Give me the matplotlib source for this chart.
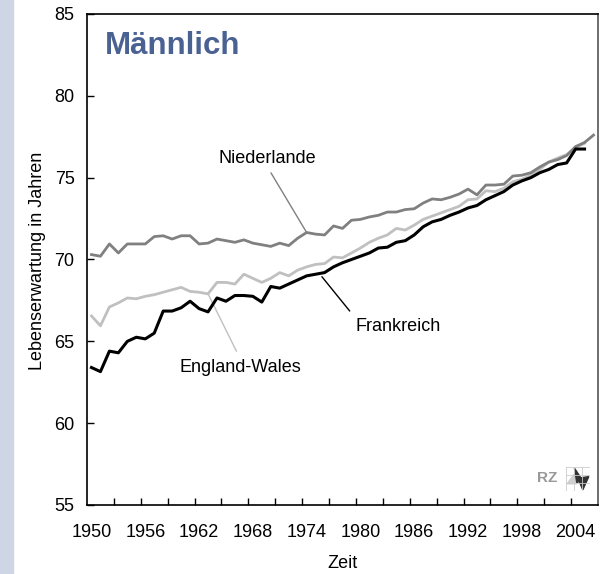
import numpy as np
import matplotlib
matplotlib.use("Agg")
import matplotlib.pyplot as plt
from matplotlib.patches import Rectangle, Polygon

plt.rcParams['font.family'] = ['Liberation Sans', 'DejaVu Sans']

# Lebenserwartung Männer (Jahre)
years_nl = np.arange(1950, 2007)
niederlande = [70.3, 70.2, 70.95, 70.4, 70.95, 70.95, 70.95, 71.4, 71.45, 71.25,
               71.45, 71.45, 70.95, 71.0, 71.25, 71.15, 71.05, 71.2, 71.0, 70.9,
               70.8, 71.0, 70.85, 71.3, 71.65, 71.55, 71.5, 72.05, 71.9, 72.4,
               72.45, 72.6, 72.7, 72.9, 72.9, 73.05, 73.1, 73.45, 73.7, 73.65,
               73.8, 74.0, 74.3, 73.95, 74.55, 74.55, 74.6, 75.1, 75.15, 75.3,
               75.65, 75.95, 76.1, 76.35, 76.9, 77.15, 77.6]

years_ew = np.arange(1950, 2006)
england_wales = [66.55, 65.95, 67.1, 67.35, 67.65, 67.6, 67.75, 67.85, 68.0, 68.15,
                 68.3, 68.05, 68.0, 67.9, 68.6, 68.6, 68.5, 69.1, 68.85, 68.6,
                 68.85, 69.2, 69.0, 69.35, 69.55, 69.7, 69.75, 70.15, 70.1, 70.4,
                 70.7, 71.05, 71.3, 71.5, 71.9, 71.8, 72.1, 72.45, 72.65, 72.85,
                 73.05, 73.25, 73.65, 73.7, 74.2, 74.15, 74.35, 74.75, 74.9, 75.15,
                 75.5, 75.95, 76.2, 76.4, 76.85, 77.1]

years_fr = np.arange(1950, 2006)
frankreich = [63.4, 63.15, 64.4, 64.3, 65.0, 65.25, 65.15, 65.5, 66.85, 66.85,
              67.05, 67.45, 67.0, 66.8, 67.65, 67.45, 67.8, 67.8, 67.75, 67.4,
              68.35, 68.25, 68.5, 68.75, 69.0, 69.1, 69.2, 69.55, 69.8, 70.0,
              70.2, 70.4, 70.7, 70.75, 71.05, 71.15, 71.5, 72.0, 72.3, 72.45,
              72.7, 72.9, 73.15, 73.3, 73.65, 73.9, 74.15, 74.55, 74.8, 75.0,
              75.3, 75.5, 75.8, 75.9, 76.75, 76.75]

xtick_labels = list(range(1950, 2005, 6))
yticks = [55, 60, 65, 70, 75, 80, 85]

fig = plt.figure(figsize=(6.13, 5.74), dpi=100)
fig.patches.append(Rectangle((0, 0), 13 / 613, 1, transform=fig.transFigure,
                             color='#ced6e5', zorder=0))

ax = fig.add_axes([87 / 613, 1 - 505 / 574, 511 / 613, 491 / 574])

ax.plot(years_nl, niederlande, color='#808080', lw=2.0, zorder=3)
ax.plot(years_ew, england_wales, color='#c0c0c0', lw=2.0, zorder=2)
ax.plot(years_fr, frankreich, color='black', lw=2.2, zorder=4)

ax.set_xlim(1949.5, 2006.5)
ax.set_ylim(55, 85)
ax.set_yticks(yticks)
ax.set_xticks(xtick_labels)
ax.set_xticks(np.arange(1952.5, 2006, 3), minor=True)
ax.tick_params(axis='x', which='major', length=0, pad=14, labelsize=13)
ax.tick_params(axis='x', which='minor', direction='in', length=5, width=1)
ax.tick_params(axis='y', direction='in', length=5, width=1, pad=9, labelsize=13)
for s in ax.spines.values():
    s.set_linewidth(1.2)
ax.spines['right'].set_color('#555555')

ax.set_xlabel('Zeit', fontsize=13, labelpad=10)
ax.set_ylabel('Lebenserwartung in Jahren', fontsize=13)
ax.yaxis.set_label_coords(-0.08, 0.497)

ax.text(0.035, 0.9185, 'Männlich', transform=ax.transAxes, fontsize=22.5,
        fontweight='bold', color='#4a6292', va='baseline', ha='left')

ax.annotate('Niederlande', xy=(1974, 71.65), xytext=(1969.6, 76.2),
            fontsize=13, ha='center', va='center',
            arrowprops=dict(arrowstyle='-', color='#808080', lw=1,
                            relpos=(0.5, 0), shrinkA=3, shrinkB=0))
ax.annotate('Frankreich', xy=(1975.7, 68.95), xytext=(1984.2, 65.9),
            fontsize=13, ha='center', va='center',
            arrowprops=dict(arrowstyle='-', color='black', lw=1,
                            relpos=(0, 1), shrinkA=4, shrinkB=0))
ax.annotate('England-Wales', xy=(1963.05, 67.85), xytext=(1966.6, 63.4),
            fontsize=13, ha='center', va='center',
            arrowprops=dict(arrowstyle='-', color='#c0c0c0', lw=1,
                            relpos=(0.5, 1), shrinkA=4, shrinkB=0))

# Logo
ax.text((557 - 87) / 511, (505 - 478.5) / 491, 'RZ', transform=ax.transAxes,
        fontsize=11, fontweight='bold', color='#999999', ha='right', va='center')
lax = fig.add_axes([566 / 613, 1 - 491 / 574, 24 / 613, 24 / 574])
lax.set_xlim(0, 1)
lax.set_ylim(0, 1)
lax.axis('off')
for g in [0, 1 / 3, 2 / 3, 1]:
    lax.plot([g, g], [0, 1], color='#cccccc', lw=0.6)
    lax.plot([0, 1], [g, g], color='#cccccc', lw=0.6)
lax.add_patch(Polygon([(0.05, 0.3), (0.45, 0.85), (0.45, 0.3)], color='#cfcfcf'))
lax.add_patch(Polygon([(0.35, 0.95), (0.62, 0.55), (0.95, 0.6), (0.7, 0.05),
                       (0.55, 0.4), (0.45, 0.35)], color='#333333'))

fig.savefig('out.png', dpi=100)
